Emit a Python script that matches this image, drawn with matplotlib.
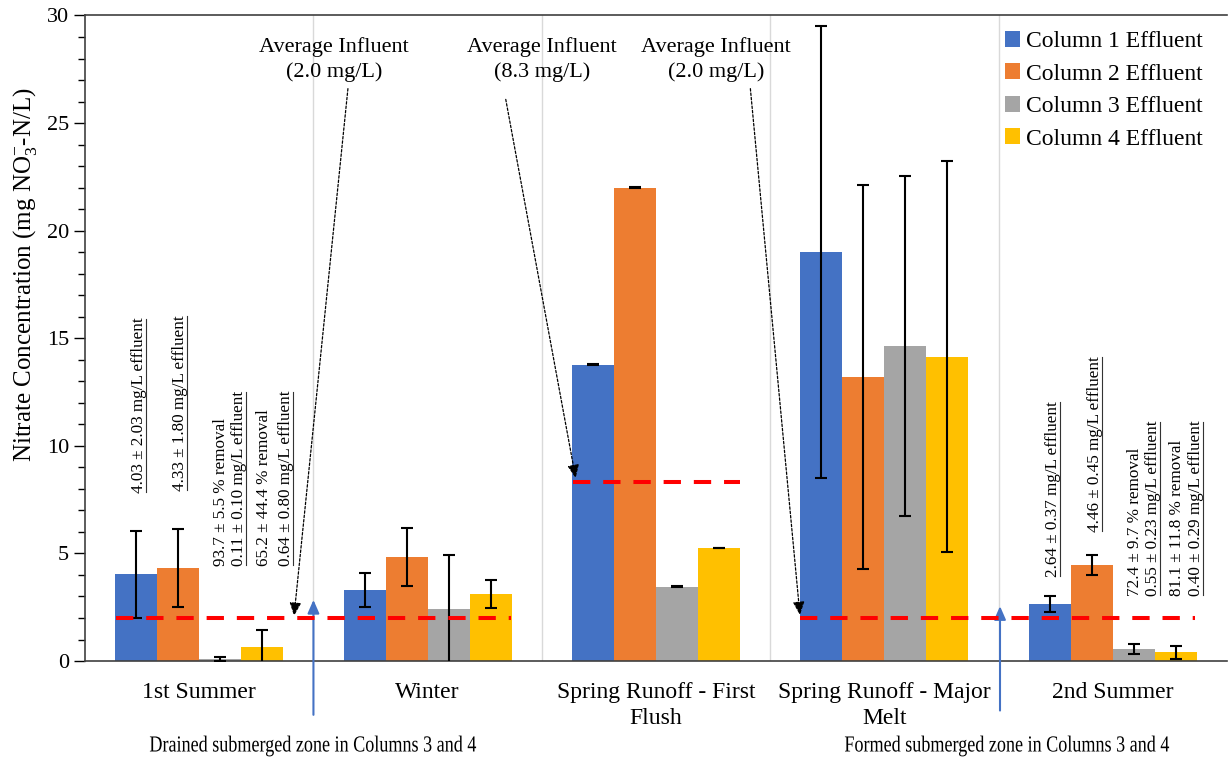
import numpy as np
import matplotlib
matplotlib.use('Agg')
from matplotlib import pyplot as plt
from matplotlib.lines import Line2D
from matplotlib.textpath import TextPath
from matplotlib.patches import PathPatch
from matplotlib.font_manager import FontProperties
from matplotlib.transforms import Affine2D, IdentityTransform

plt.rcParams['font.family'] = ['Liberation Serif', 'DejaVu Serif']
plt.rcParams['mathtext.fontset'] = 'custom'
plt.rcParams['mathtext.rm'] = 'Liberation Serif'
plt.rcParams['mathtext.it'] = 'Liberation Serif:italic'

# data
seasons = ['1st Summer', 'Winter', 'Spring Runoff - First\nFlush', 'Spring Runoff - Major\nMelt', '2nd Summer']
series = ['Column 1 Effluent', 'Column 2 Effluent', 'Column 3 Effluent', 'Column 4 Effluent']
colors = ['#4472c4', '#ed7d31', '#a5a5a5', '#ffc000']
col1 = [4.03, 3.30, 13.78, 19.00, 2.64]
col2 = [4.33, 4.85, 22.00, 13.20, 4.46]
col3 = [0.11, 2.40, 3.45, 14.65, 0.55]
col4 = [0.64, 3.10, 5.25, 14.15, 0.40]
err1 = [2.03, 0.80, 0.02, 10.50, 0.37]
err2 = [1.80, 1.35, 0.02, 8.90, 0.45]
err3 = [0.10, 2.55, 0.02, 7.90, 0.23]
err4 = [0.80, 0.65, 0.02, 9.10, 0.29]
influent = [2.0, 8.3, 2.0]

fig = plt.figure(figsize=(12.29, 7.62), dpi=100)
ax = fig.add_axes([0.0692, 0.1325, 0.9292, 0.8472])

x = np.arange(len(seasons))
w = 0.184
vals = [col1, col2, col3, col4]
errs = [err1, err2, err3, err4]
for i in range(4):
    ax.bar(x + (i - 1.5) * w, vals[i], w, color=colors[i], label=series[i], zorder=2)
    ax.errorbar(x + (i - 1.5) * w, vals[i], yerr=errs[i], fmt='none', ecolor='black',
                elinewidth=1.5, capsize=4.5, capthick=1.5, zorder=3)

# category boundary gridlines
for b in [0.5, 1.5, 2.5, 3.5]:
    ax.axvline(b, color='#d9d9d9', lw=1, zorder=0)

# average influent lines
dash = dict(color='red', lw=2.9, linestyle=(0, (4.3, 3.2)), zorder=4)
ax.plot([-0.363, 1.364], [influent[0]] * 2, **dash)
ax.plot([1.635, 2.369], [influent[1]] * 2, **dash)
ax.plot([2.63, 4.36], [influent[2]] * 2, **dash)

arrow = dict(arrowstyle='-|>,head_width=0.35,head_length=0.8', color='black', lw=0.9,
             linestyle=(0, (2, 1.5)), shrinkA=0, shrinkB=0)
ax.text(0.59, 27.95, 'Average Influent\n(2.0 mg/L)', ha='center', va='center', fontsize=16, linespacing=1.35)
ax.annotate('', xy=(0.415, 2.1), xytext=(0.651, 26.6), arrowprops=arrow)
ax.text(1.5, 27.95, 'Average Influent\n(8.3 mg/L)', ha='center', va='center', fontsize=16, linespacing=1.35)
ax.annotate('', xy=(1.648, 8.5), xytext=(1.342, 26.1), arrowprops=arrow)
ax.text(2.264, 27.95, 'Average Influent\n(2.0 mg/L)', ha='center', va='center', fontsize=16, linespacing=1.35)
ax.annotate('', xy=(2.63, 2.14), xytext=(2.413, 26.6), arrowprops=arrow)

# submerged zone arrows
barrow = dict(arrowstyle='-|>,head_width=0.35,head_length=0.8', color='#4472c4', lw=1.5,
              shrinkA=0, shrinkB=0)
ax.annotate('', xy=(0.5, 2.84), xytext=(0.5, -2.5), arrowprops=barrow, annotation_clip=False)
ax.annotate('', xy=(3.506, 2.55), xytext=(3.506, -2.3), arrowprops=barrow, annotation_clip=False)


def squeezed_text(xc, yc, s, size, sx):
    # text drawn as a path, narrowed horizontally (pixel coords, origin bottom-left)
    fp = FontProperties(family='Liberation Serif')
    tp = TextPath((0, 0), s, size=size * 100 / 72, prop=fp)
    bb = tp.get_extents()
    tr = Affine2D().translate(-(bb.x0 + bb.x1) / 2, -(bb.y0 + bb.y1) / 2).scale(sx, 1).translate(xc, yc)
    fig.add_artist(PathPatch(tr.transform_path(tp), facecolor='black', lw=0,
                             transform=IdentityTransform()))


squeezed_text(313, 762 - 746, 'Drained submerged zone in Columns 3 and 4', 16.5, 0.79)
squeezed_text(1007, 762 - 746, 'Formed submerged zone in Columns 3 and 4', 16.5, 0.79)

# rotated summary notes: (x, y, text, underlined)
notes = [
    (-0.265, 7.8, '4.03 \u00b1 2.03 mg/L effluent', True),
    (-0.085, 7.9, '4.33 \u00b1 1.80 mg/L effluent', True),
    (0.095, 4.4, '93.7 \u00b1 5.5 % removal', False),
    (0.175, 4.4, '0.11 \u00b1 0.10 mg/L effluent', True),
    (0.285, 4.4, '65.2 \u00b1 44.4 % removal', False),
    (0.38, 4.4, '0.64 \u00b1 0.80 mg/L effluent', True),
    (3.736, 3.9, '2.64 \u00b1 0.37 mg/L effluent', True),
    (3.92, 6.0, '4.46 \u00b1 0.45 mg/L effluent', True),
    (4.095, 3.0, '72.4 \u00b1 9.7 % removal', False),
    (4.175, 3.0, '0.55 \u00b1 0.23 mg/L effluent', True),
    (4.28, 3.0, '81.1 \u00b1 11.8 % removal', False),
    (4.365, 3.0, '0.40 \u00b1 0.29 mg/L effluent', True),
]
note_texts = []
for nx, ny, s, ul in notes:
    t = ax.text(nx, ny, s, rotation=90, ha='center', va='bottom', fontsize=12.3)
    note_texts.append((t, ul))

ax.set_xlim(-0.5, 4.5)
ax.set_ylim(0, 30)
ax.set_xticks(x)
ax.set_xticklabels(seasons, fontsize=17, linespacing=1.3)
ax.tick_params(axis='x', length=0, pad=15)
ax.set_yticks(np.arange(0, 31, 5))
ax.set_yticks(np.arange(0, 31, 1), minor=True)
ax.tick_params(axis='y', which='major', labelsize=16, length=8, direction='out', width=1)
ax.tick_params(axis='y', which='minor', length=5, direction='out', width=1)
ax.set_ylabel(r'Nitrate Concentration (mg NO$_3^{-}$-N/L)', fontsize=18)
ax.yaxis.set_label_coords(-0.04, 0.598)
for sp in ax.spines.values():
    sp.set_color('#404040')
    sp.set_linewidth(1.2)
ax.spines['right'].set_visible(False)

ax.legend(loc='upper left', frameon=False, fontsize=17, handlelength=0.65, handleheight=0.65,
          handletextpad=0.25, labelspacing=0.48, borderaxespad=0, borderpad=0,
          bbox_to_anchor=(0.8055, 0.976))

# underline selected notes
fig.canvas.draw()
r = fig.canvas.get_renderer()
inv = fig.transFigure.inverted()
for t, ul in note_texts:
    if not ul:
        continue
    bb = t.get_window_extent(r)
    (x0, y0) = inv.transform((bb.x1 - 1, bb.y0 + 1))
    (x1, y1) = inv.transform((bb.x1 - 1, bb.y1 - 1))
    fig.add_artist(Line2D([x0, x1], [y0, y1], color='#333333', lw=0.8))

fig.savefig('out.png', dpi=100)
